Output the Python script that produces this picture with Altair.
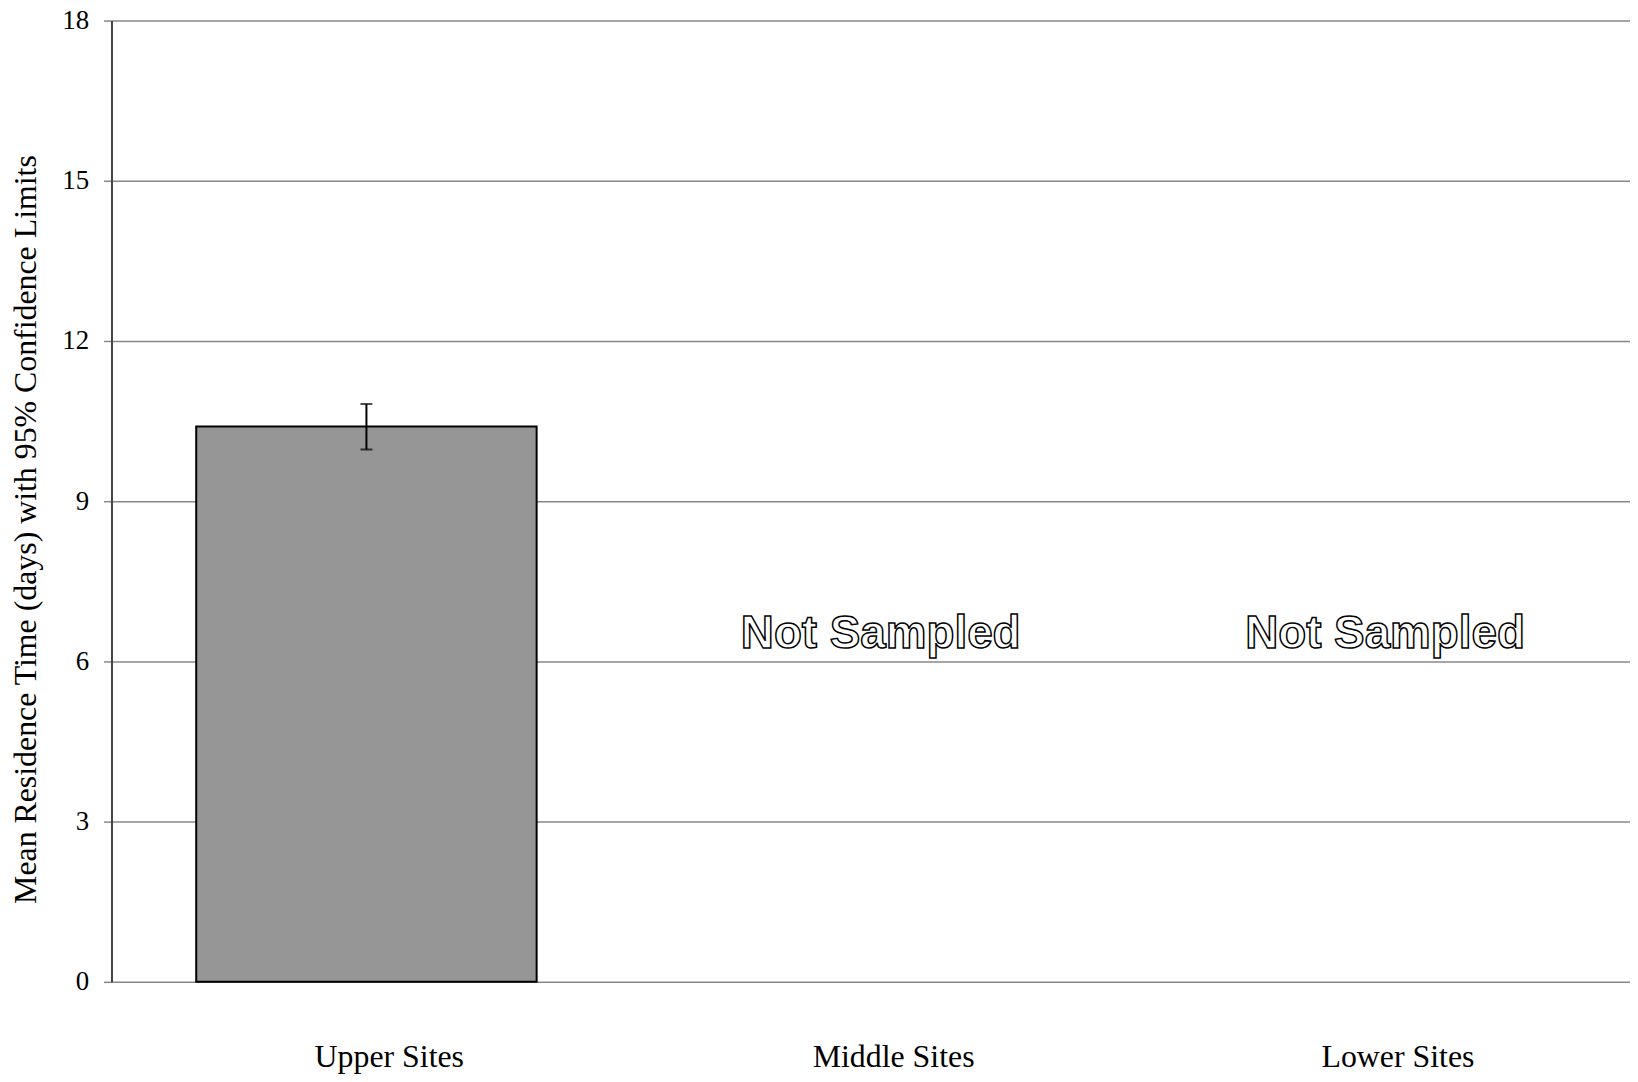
import altair as alt
import pandas as pd

# ---- data ----
sites = ["Upper Sites", "Middle Sites", "Lower Sites"]
mean_days = [10.4, None, None]
ci_low = [9.97, None, None]
ci_high = [10.82, None, None]
status = ["", "Not Sampled", "Not Sampled"]
y_ticks = [0, 3, 6, 9, 12, 15, 18]

df = pd.DataFrame({
    "site": sites,
    "mean": mean_days,
    "lo": ci_low,
    "hi": ci_high,
    "status": status,
})

SERIF = "Liberation Serif"

x_enc = alt.X(
    "site:N",
    sort=sites,
    scale=alt.Scale(domain=sites, paddingInner=0.325, paddingOuter=0.168),
    axis=alt.Axis(
        title=None,
        labelAngle=0,
        labelFont=SERIF,
        labelFontSize=32,
        labelColor="black",
        labelBaseline="alphabetic",
        labelPadding=85,
        labelOffset=23,
        ticks=False,
        tickSize=0,
        domain=False,
        grid=False,
    ),
)

y_scale = alt.Scale(domain=[0, 18], nice=False, zero=True)
y_axis = alt.Axis(
    title="Mean Residence Time (days) with 95% Confidence Limits",
    titleFont=SERIF,
    titleFontSize=32,
    titleFontWeight="normal",
    titleColor="black",
    titleAngle=-90,
    titleAlign="center",
    titleBaseline="alphabetic",
    titleX=-76,
    titleY=511,
    values=y_ticks,
    labelFont=SERIF,
    labelFontSize=27,
    labelColor="black",
    labelPadding=15,
    tickSize=8,
    tickColor="#888888",
    tickWidth=1.5,
    domainColor="#444444",
    domainWidth=2,
    grid=True,
    gridColor="#888888",
    gridWidth=1.5,
)

base = alt.Chart(df)

bars = base.transform_filter("isValid(datum.mean)").mark_bar(
    color="#969696", stroke="black", strokeWidth=2
).encode(
    x=x_enc,
    y=alt.Y("mean:Q", scale=y_scale, axis=y_axis),
)

err = base.transform_filter("isValid(datum.lo)").mark_rule(
    color="black", strokeWidth=2
).encode(
    x=alt.X("site:N", sort=sites),
    y=alt.Y("lo:Q"),
    y2="hi:Q",
)

cap_lo = base.transform_filter("isValid(datum.lo)").mark_tick(
    color="black", thickness=2, size=12, orient="horizontal"
).encode(x=alt.X("site:N", sort=sites), y=alt.Y("lo:Q"))

cap_hi = base.transform_filter("isValid(datum.hi)").mark_tick(
    color="black", thickness=2, size=12, orient="horizontal"
).encode(x=alt.X("site:N", sort=sites), y=alt.Y("hi:Q"))

labels = base.transform_filter("datum.status != ''").mark_text(
    font="Liberation Sans",
    fontWeight="bold",
    fontSize=46,
    fill="white",
    stroke="black",
    strokeWidth=1.5,
    align="center",
    baseline="alphabetic",
    dx=10,
).encode(
    x=alt.X("site:N", sort=sites),
    y=alt.Y(datum=6.26),
    text="status:N",
)

chart = alt.layer(bars, err, cap_lo, cap_hi, labels).properties(
    width=1526,
    height=966,
    autosize=alt.AutoSizeParams(type="none"),
    padding={"left": 104, "top": 10, "right": 0, "bottom": 90},
    background="white",
).configure_view(stroke=None)

chart.save("out.html", embed_options={"renderer": "svg", "actions": False})
